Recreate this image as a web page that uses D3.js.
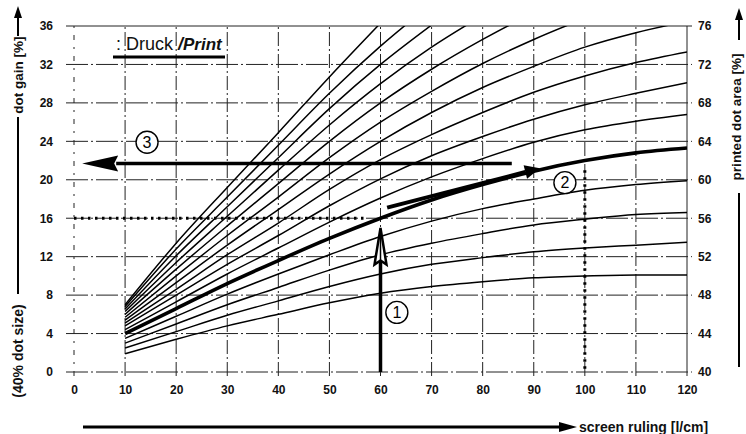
<!DOCTYPE html>
<html>
<head>
<meta charset="utf-8">
<script src="https://cdnjs.cloudflare.com/ajax/libs/d3/7.8.5/d3.min.js"></script>
<style>
  body { margin: 0; background: #fff; }
  svg { display: block; font-family: 'Liberation Sans', Arial, sans-serif; }
  .tick text { font-family: 'Liberation Sans', Arial, sans-serif; font-size: 12px; font-weight: bold; fill: #111; }
  .title { font-size: 13.5px; font-weight: bold; fill: #111; }
</style>
</head>
<body>
<svg id="chart" width="746" height="434"></svg>
<script>

// screen ruling [l/cm] and dot gain [%]
const rulings = [10, 20, 30, 40, 50, 60, 70, 80, 90, 100, 110, 120];
const rulingTicks = [0, 10, 20, 30, 40, 50, 60, 70, 80, 90, 100, 110, 120];
const gainTicks = [0, 4, 8, 12, 16, 20, 24, 28, 32, 36];
const areaTicks = [40, 44, 48, 52, 56, 60, 64, 68, 72, 76];

const curve1 = [1.9, 3.4, 4.8, 6.0, 7.2, 8.2, 8.9, 9.4, 9.8, 10.0, 10.1, 10.1];
const curve2 = [2.5, 4.2, 5.9, 7.4, 8.9, 10.2, 11.2, 11.9, 12.5, 12.9, 13.2, 13.5];
const curve3 = [3.0, 5.0, 7.0, 8.8, 10.6, 12.2, 13.4, 14.4, 15.3, 15.9, 16.4, 16.6];
const curve4 = [3.5, 5.8, 8.1, 10.2, 12.2, 14.1, 15.7, 17.0, 18.0, 18.9, 19.5, 19.9];
const curve5 = [4.0, 6.6, 9.2, 11.6, 13.9, 16.0, 17.9, 19.5, 20.9, 22.0, 22.8, 23.3]; // 40% dot size
const curve6 = [4.4, 7.3, 10.2, 12.9, 15.6, 18.1, 20.3, 22.2, 23.9, 25.2, 26.1, 26.8];
const curve7 = [4.8, 8.0, 11.2, 14.2, 17.3, 20.1, 22.5, 24.5, 26.3, 27.8, 29.0, 30.1];
const curve8 = [5.1, 8.6, 12.2, 15.5, 19.0, 22.1, 24.7, 27.0, 29.1, 30.8, 32.2, 33.3];
const curve9 = [5.4, 9.3, 13.2, 16.9, 20.6, 24.0, 27.0, 29.6, 31.8, 33.8, 35.3, 36.5];
const curve10 = [5.7, 10.0, 14.2, 18.2, 22.3, 26.0, 29.2, 32.1, 34.6, 36.8];
const curve11 = [6.0, 10.7, 15.2, 19.6, 24.0, 28.0, 31.5, 34.6, 37.4];
const curve12 = [6.3, 11.4, 16.2, 21.0, 25.7, 30.0, 33.8, 37.1];
const curve13 = [6.55, 12.1, 17.2, 22.3, 27.4, 32.0, 36.1];
const curve14 = [6.8, 12.8, 18.2, 23.6, 29.0, 33.9, 38.3];
const curve15 = [7.0, 13.4, 19.2, 24.9, 30.7, 36.3];
const curves = [curve1, curve2, curve3, curve4, curve5, curve6, curve7, curve8,
                curve9, curve10, curve11, curve12, curve13, curve14, curve15];

// reading example: (1) up at 60 l/cm, (2) along the 40% curve, (3) back to the gain axis
const readRuling = 60, readGain = 15;
const dotGain = 16, dotGainRuling = 57;
const compareRuling = 100, compareGain = 21;
const arrow2From = [61.3, 17.1], arrow2To = [91.2, 21.2];
const arrow3Gain = 21.7, arrow3From = 85.7, arrow3To = 1.6;
const marks = [["1", 63.2, 6.2], ["2", 96.1, 19.7], ["3", 14.3, 23.9]];

const svg = d3.select("#chart");
const x = d3.scaleLinear().domain([0, 120]).range([74, 687]);
const y = d3.scaleLinear().domain([0, 36]).range([372, 26]);
const yr = d3.scaleLinear().domain([40, 76]).range([372, 26]);

svg.append("clipPath").attr("id", "plot")
  .append("rect")
  .attr("x", x(0)).attr("y", y(36))
  .attr("width", x(120) - x(0)).attr("height", y(0) - y(36));

// grid
svg.append("g").selectAll("line").data(gainTicks).join("line")
  .attr("x1", x(0) - 8).attr("x2", x(120) + 5)
  .attr("y1", d => y(d)).attr("y2", d => y(d))
  .attr("stroke", "#222").attr("stroke-width", 1)
  .attr("stroke-dasharray", d => d === 36 ? null : "22,3,2,3");

svg.append("g").selectAll("line").data(rulingTicks).join("line")
  .attr("x1", d => x(d)).attr("x2", d => x(d))
  .attr("y1", y(0) + 4).attr("y2", y(36))
  .attr("stroke", "#222").attr("stroke-width", 1)
  .attr("stroke-dasharray", d => d === 120 ? null : (d === 0 ? "5,7,2,7" : "14,3,2,3"));

// axes
svg.append("g").attr("transform", `translate(${x(0)},0)`)
  .call(d3.axisLeft(y).tickValues(gainTicks).tickSize(0).tickPadding(21))
  .call(g => g.select(".domain").remove());

svg.append("g").attr("transform", `translate(${x(120)},0)`)
  .call(d3.axisRight(yr).tickValues(areaTicks).tickSize(0).tickPadding(11))
  .call(g => g.select(".domain").remove());

svg.append("g").attr("transform", `translate(0,${y(0)})`)
  .call(d3.axisBottom(x).tickValues(rulingTicks).tickSize(0).tickPadding(13))
  .call(g => g.select(".domain").remove());

// curves
const line = d3.line()
  .x((d, i) => x(rulings[i]))
  .y(d => y(d))
  .curve(d3.curveMonotoneX);

svg.append("g").attr("clip-path", "url(#plot)")
  .selectAll("path").data(curves).join("path")
  .attr("d", line)
  .attr("fill", "none")
  .attr("stroke", "#000")
  .attr("stroke-width", (d, i) => i === 4 ? 3.6 : 1.5);

// dotted guides
svg.append("line")
  .attr("x1", x(0)).attr("x2", x(dotGainRuling))
  .attr("y1", y(dotGain)).attr("y2", y(dotGain))
  .attr("stroke", "#000").attr("stroke-width", 3).attr("stroke-dasharray", "2.5,4.5");
svg.append("line")
  .attr("x1", x(compareRuling)).attr("x2", x(compareRuling))
  .attr("y1", y(compareGain)).attr("y2", y(0))
  .attr("stroke", "#000").attr("stroke-width", 3).attr("stroke-dasharray", "2.5,4.5");

// arrow 1
const a1x = x(readRuling), a1tip = y(readGain), a1base = y(readGain - 3.4);
svg.append("line")
  .attr("x1", a1x).attr("x2", a1x).attr("y1", y(0)).attr("y2", a1base)
  .attr("stroke", "#000").attr("stroke-width", 3.5);
svg.append("path")
  .attr("d", `M${a1x},${a1tip} L${a1x - 6},${a1base + 4} L${a1x},${a1base} L${a1x + 6},${a1base + 4} Z`)
  .attr("fill", "#fff").attr("stroke", "#000").attr("stroke-width", 2.5);
svg.append("line")
  .attr("x1", a1x).attr("x2", a1x).attr("y1", a1tip + 4).attr("y2", a1base + 8)
  .attr("stroke", "#000").attr("stroke-width", 1.5);

// arrow 2
const p0 = [x(arrow2From[0]), y(arrow2From[1])], p1 = [x(arrow2To[0]), y(arrow2To[1])];
const ang = Math.atan2(p1[1] - p0[1], p1[0] - p0[0]);
const hb = [p1[0] - 15 * Math.cos(ang), p1[1] - 15 * Math.sin(ang)];
svg.append("line")
  .attr("x1", p0[0]).attr("y1", p0[1]).attr("x2", hb[0]).attr("y2", hb[1])
  .attr("stroke", "#000").attr("stroke-width", 4);
svg.append("path")
  .attr("d", `M${p1[0]},${p1[1]} L${hb[0] + 7 * Math.sin(ang)},${hb[1] - 7 * Math.cos(ang)} L${hb[0] - 7 * Math.sin(ang)},${hb[1] + 7 * Math.cos(ang)} Z`)
  .attr("fill", "#000");

// arrow 3
const a3y = y(arrow3Gain), a3tip = x(arrow3To), a3base = a3tip + 36;
svg.append("line")
  .attr("x1", x(arrow3From)).attr("x2", a3base - 2).attr("y1", a3y).attr("y2", a3y)
  .attr("stroke", "#000").attr("stroke-width", 3.5);
svg.append("path")
  .attr("d", `M${a3tip},${a3y} L${a3base},${a3y - 8} L${a3base - 4},${a3y} L${a3base},${a3y + 8} Z`)
  .attr("fill", "#000");

// circled numbers
const mk = svg.append("g").selectAll("g").data(marks).join("g")
  .attr("transform", d => `translate(${x(d[1])},${y(d[2])})`);
mk.append("circle").attr("r", 11).attr("fill", "#fff").attr("stroke", "#000").attr("stroke-width", 1.4);
mk.append("text").text(d => d[0])
  .attr("text-anchor", "middle").attr("dy", "0.36em")
  .attr("font-size", 16).attr("fill", "#000");

// legend
const lg = svg.append("text").attr("x", 116).attr("y", 50).attr("font-size", 18).attr("fill", "#111");
lg.append("tspan").text(": Druck ");
lg.append("tspan").text("/").attr("font-weight", "bold").attr("font-style", "italic");
lg.append("tspan").text("Print").attr("font-weight", "bold").attr("font-style", "italic").attr("font-size", 17);
svg.append("line").attr("x1", 113).attr("x2", 225).attr("y1", 57).attr("y2", 57)
  .attr("stroke", "#000").attr("stroke-width", 3);

// axis titles
function upArrow(cx, top, bottom) {
  svg.append("line").attr("x1", cx).attr("x2", cx).attr("y1", bottom).attr("y2", top + 8)
    .attr("stroke", "#000").attr("stroke-width", 2);
  svg.append("path").attr("d", `M${cx},${top} L${cx - 4},${top + 12} L${cx + 4},${top + 12} Z`).attr("fill", "#000");
}

upArrow(18, 6, 36);
svg.append("text").attr("class", "title").attr("text-anchor", "middle")
  .attr("transform", "translate(23,75) rotate(-90)").text("dot gain [%]");
svg.append("line").attr("x1", 18).attr("x2", 18).attr("y1", 117).attr("y2", 294)
  .attr("stroke", "#000").attr("stroke-width", 2);
svg.append("text").attr("class", "title").attr("text-anchor", "middle")
  .style("font-size", "14px")
  .attr("transform", "translate(23,351) rotate(-90)").text("(40% dot size)");

upArrow(739, 8, 40);
svg.append("text").attr("class", "title").attr("text-anchor", "middle")
  .attr("transform", "translate(741,117) rotate(-90)").text("printed dot area [%]");
svg.append("line").attr("x1", 739).attr("x2", 739).attr("y1", 193).attr("y2", 367)
  .attr("stroke", "#000").attr("stroke-width", 2);

svg.append("line").attr("x1", 83).attr("x2", 562).attr("y1", 427).attr("y2", 427)
  .attr("stroke", "#000").attr("stroke-width", 3);
svg.append("path").attr("d", "M577,427 L559,422 L559,432 Z").attr("fill", "#000");
svg.append("text").attr("class", "title").style("font-size", "14px")
  .attr("x", 579).attr("y", 432).text("screen ruling [l/cm]");

</script>
</body>
</html>
